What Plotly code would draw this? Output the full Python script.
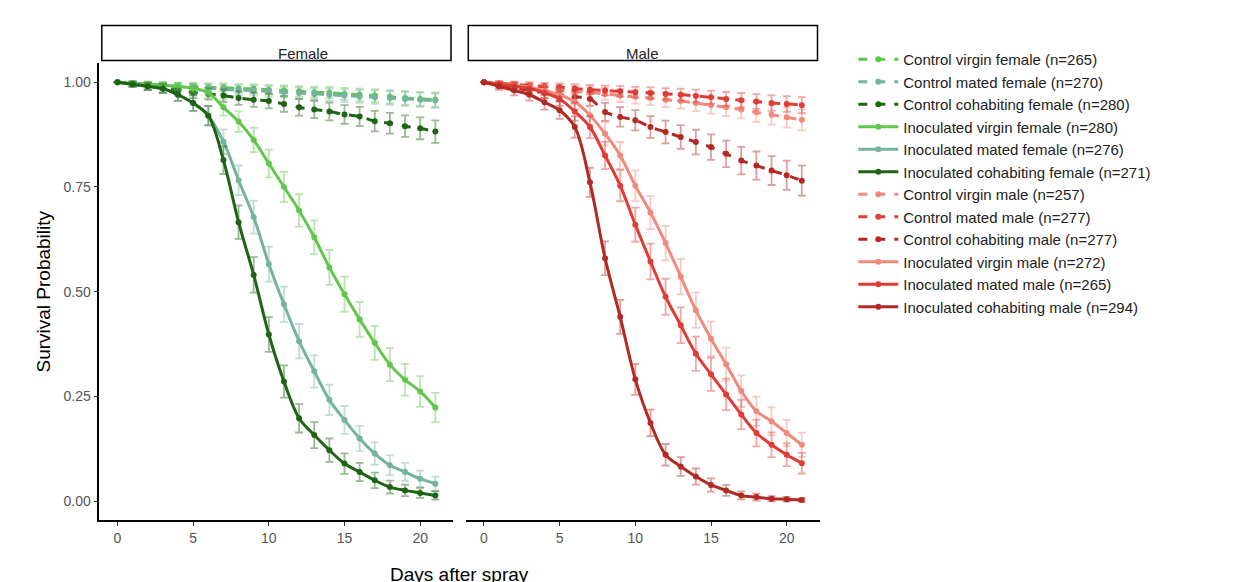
import numpy as np
import plotly.graph_objects as go

days = list(range(22))

## survival probabilities
fem_ctrl_virgin = [1.0, 0.998, 0.995, 0.993, 0.99, 0.99, 0.988, 0.987, 0.985, 0.984, 0.982, 0.98, 0.978, 0.976, 0.975, 0.972, 0.97, 0.968, 0.965, 0.962, 0.96, 0.958]
fem_ctrl_mated = [1.0, 0.997, 0.993, 0.99, 0.988, 0.987, 0.985, 0.983, 0.981, 0.98, 0.978, 0.976, 0.974, 0.972, 0.97, 0.968, 0.966, 0.964, 0.962, 0.96, 0.958, 0.956]
fem_ctrl_cohab = [1.0, 0.995, 0.99, 0.985, 0.98, 0.975, 0.972, 0.968, 0.962, 0.958, 0.955, 0.948, 0.94, 0.935, 0.93, 0.923, 0.918, 0.907, 0.902, 0.895, 0.89, 0.882]
fem_inoc_virgin = [1.0, 0.997, 0.995, 0.993, 0.99, 0.985, 0.975, 0.94, 0.906, 0.862, 0.806, 0.75, 0.694, 0.63, 0.558, 0.494, 0.434, 0.378, 0.326, 0.29, 0.262, 0.224]
fem_inoc_mated = [1.0, 0.995, 0.99, 0.985, 0.97, 0.95, 0.92, 0.858, 0.766, 0.678, 0.566, 0.47, 0.382, 0.31, 0.242, 0.194, 0.15, 0.114, 0.086, 0.07, 0.054, 0.042]
fem_inoc_cohab = [1.0, 0.995, 0.99, 0.985, 0.97, 0.95, 0.92, 0.814, 0.666, 0.54, 0.398, 0.286, 0.198, 0.158, 0.122, 0.09, 0.07, 0.05, 0.034, 0.026, 0.02, 0.014]

male_ctrl_virgin = [1.0, 0.996, 0.992, 0.99, 0.986, 0.982, 0.978, 0.975, 0.972, 0.968, 0.965, 0.962, 0.958, 0.955, 0.95, 0.945, 0.94, 0.935, 0.928, 0.922, 0.916, 0.91]
male_ctrl_mated = [1.0, 0.997, 0.995, 0.992, 0.99, 0.988, 0.985, 0.982, 0.98, 0.978, 0.976, 0.974, 0.972, 0.97, 0.967, 0.964, 0.96, 0.957, 0.954, 0.95, 0.948, 0.945]
male_ctrl_cohab = [1.0, 0.993, 0.987, 0.98, 0.975, 0.97, 0.965, 0.96, 0.929, 0.917, 0.909, 0.893, 0.881, 0.869, 0.857, 0.845, 0.829, 0.813, 0.801, 0.789, 0.778, 0.765]
male_inoc_virgin = [1.0, 0.996, 0.992, 0.988, 0.98, 0.97, 0.953, 0.921, 0.877, 0.825, 0.753, 0.689, 0.616, 0.536, 0.456, 0.388, 0.327, 0.263, 0.215, 0.191, 0.163, 0.135]
male_inoc_mated = [1.0, 0.995, 0.99, 0.985, 0.975, 0.96, 0.93, 0.893, 0.825, 0.753, 0.66, 0.572, 0.488, 0.42, 0.352, 0.303, 0.255, 0.207, 0.163, 0.135, 0.111, 0.091]
male_inoc_cohab = [1.0, 0.99, 0.98, 0.97, 0.952, 0.933, 0.893, 0.761, 0.58, 0.44, 0.291, 0.187, 0.111, 0.083, 0.059, 0.039, 0.026, 0.014, 0.01, 0.006, 0.005, 0.003]

names = [
    "Control virgin female (n=265)", "Control mated female (n=270)", "Control cohabiting female (n=280)",
    "Inoculated virgin female (n=280)", "Inoculated mated female (n=276)", "Inoculated cohabiting female (n=271)",
    "Control virgin male (n=257)", "Control mated male (n=277)", "Control cohabiting male (n=277)",
    "Inoculated virgin male (n=272)", "Inoculated mated male (n=265)", "Inoculated cohabiting male (n=294)",
]
sizes = [265, 270, 280, 280, 276, 271, 257, 277, 277, 272, 265, 294]
series = [fem_ctrl_virgin, fem_ctrl_mated, fem_ctrl_cohab, fem_inoc_virgin, fem_inoc_mated, fem_inoc_cohab,
          male_ctrl_virgin, male_ctrl_mated, male_ctrl_cohab, male_inoc_virgin, male_inoc_mated, male_inoc_cohab]

colors = ["#62c64c", "#74b39e", "#1f6415", "#62c64c", "#74b39e", "#1f6415",
          "#f08a7c", "#e03c36", "#b22a24", "#f08a7c", "#e03c36", "#b22a24"]
err_colors = ["rgba(98,198,76,0.45)", "rgba(116,179,158,0.45)", "rgba(31,100,21,0.45)"] * 2 + \
             ["rgba(240,138,124,0.45)", "rgba(224,60,54,0.45)", "rgba(178,42,36,0.45)"] * 2

fig = go.Figure()
for i, (name, y, n) in enumerate(zip(names, series, sizes)):
    y = np.array(y)
    se = 1.4 * np.sqrt(y * (1 - y) / n)
    male = i >= 6
    ctrl = (i % 6) < 3
    fig.add_trace(go.Scatter(
        x=days, y=y, name=name, mode="lines+markers",
        xaxis="x2" if male else "x", yaxis="y",
        line=dict(color=colors[i], width=3, dash="dash" if ctrl else "solid", shape="spline"),
        marker=dict(size=6, color=colors[i]),
        error_y=dict(type="data", array=se, color=err_colors[i], thickness=1.8, width=4),
    ))

axis_common = dict(range=[-1.2, 22.2], tickvals=[0, 5, 10, 15, 20], showgrid=False, zeroline=False,
                   showline=True, linecolor="black", linewidth=1.5, ticks="outside", ticklen=4,
                   tickcolor="#333", tickfont=dict(size=14, color="#555"))
fig.update_layout(
    width=1234, height=582, plot_bgcolor="white", paper_bgcolor="white",
    font=dict(family="Liberation Sans, Arial, sans-serif"),
    margin=dict(l=0, r=0, t=0, b=0),
    xaxis=dict(domain=[0.074, 0.361], anchor="y", **axis_common),
    xaxis2=dict(domain=[0.371, 0.658], anchor="y", **axis_common),
    yaxis=dict(domain=[0.12, 0.905], range=[-0.045, 1.045], tickvals=[0, 0.25, 0.5, 0.75, 1.0],
               ticktext=["0.00", "0.25", "0.50", "0.75", "1.00"], showgrid=False, zeroline=False,
               showline=True, linecolor="black", linewidth=1.5, ticks="outside", ticklen=4,
               tickcolor="#333", tickfont=dict(size=14, color="#555"),
               title=dict(text="Survival Probability", font=dict(size=19, color="black"), standoff=8)),
    legend=dict(x=0.685, y=0.94, yanchor="top", font=dict(size=15, color="#222"),
                tracegroupgap=0, itemwidth=40),
    shapes=[
        dict(type="rect", xref="paper", yref="paper", x0=0.076, x1=0.359, y0=0.91, y1=0.97,
             line=dict(color="black", width=1.5), fillcolor="white"),
        dict(type="rect", xref="paper", yref="paper", x0=0.373, x1=0.656, y0=0.91, y1=0.97,
             line=dict(color="black", width=1.5), fillcolor="white"),
    ],
    annotations=[
        dict(text="Female", xref="paper", yref="paper", x=0.2175, y=0.94, showarrow=False,
             font=dict(size=15, color="#222")),
        dict(text="Male", xref="paper", yref="paper", x=0.5145, y=0.94, showarrow=False,
             font=dict(size=15, color="#222")),
        dict(text="Days after spray", xref="paper", yref="paper", x=0.366, y=0.005, yanchor="bottom",
             showarrow=False, font=dict(size=19, color="black")),
    ],
)
fig.write_html("out.html")
